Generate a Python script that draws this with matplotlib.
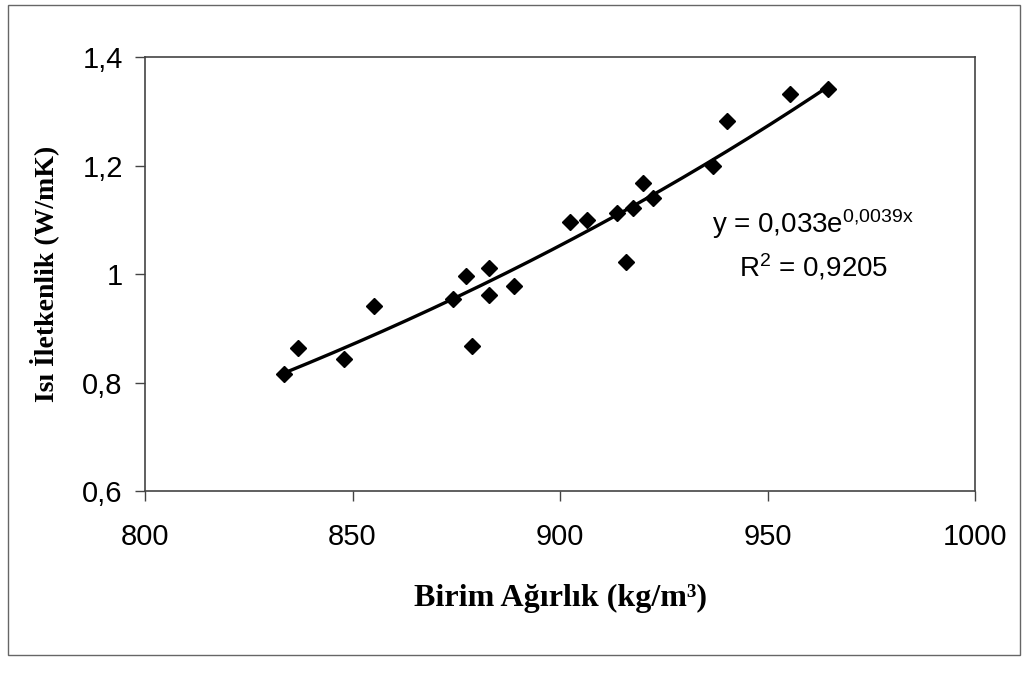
import numpy as np
import matplotlib
matplotlib.use("Agg")
import matplotlib.pyplot as plt
from matplotlib.patches import Rectangle
from matplotlib import font_manager

# Unit weight (kg/m3) and thermal conductivity (W/mK) of the samples
birim_agirlik = [833.5, 836.8, 848.0, 855.2, 874.1, 877.4, 878.8, 883.0, 883.0,
                 888.8, 902.5, 906.6, 913.8, 915.8, 917.7, 920.1, 922.3, 936.8,
                 940.2, 955.4, 964.5]
isi_iletkenlik = [0.816, 0.864, 0.843, 0.941, 0.954, 0.996, 0.867, 1.011, 0.961,
                  0.978, 1.096, 1.100, 1.112, 1.022, 1.122, 1.168, 1.140, 1.199,
                  1.282, 1.332, 1.341]

x_ticks = [800, 850, 900, 950, 1000]
y_ticks = [0.6, 0.8, 1.0, 1.2, 1.4]
y_tick_labels = ["0,6", "0,8", "1", "1,2", "1,4"]

esitlik = r"y = 0,033e$^{0{,}0039x}$"
r_kare = r"R$^{2}$ = 0,9205"


def available(name):
    try:
        font_manager.findfont(name, fallback_to_default=False)
        return True
    except Exception:
        return False


narrow = available("Liberation Sans Narrow")
sans_name = "Liberation Sans Narrow" if narrow else "Liberation Sans"
sans = [sans_name, "DejaVu Sans"]
serif = ["Liberation Serif", "DejaVu Serif"]
tick_size = 24 if narrow else 21
eq_size = 23 if narrow else 20

plt.rcParams["mathtext.fontset"] = "custom"
plt.rcParams["mathtext.rm"] = sans_name
plt.rcParams["mathtext.it"] = sans_name
plt.rcParams["mathtext.bf"] = sans_name

fig = plt.figure(figsize=(10.27, 6.73), dpi=100)

# outer chart frame
fig.patches.append(Rectangle((0.008, 0.027), 0.985, 0.966, transform=fig.transFigure,
                             fill=False, edgecolor="#666666", linewidth=1.0))

ax = fig.add_axes([0.1412, 0.2704, 0.8082, 0.6449])

x = np.array(birim_agirlik)
y = np.array(isi_iletkenlik)

# exponential trend line fitted on ln(y)
b, ln_a = np.polyfit(x, np.log(y), 1)
xs = np.linspace(x.min(), x.max(), 200)
ax.plot(xs, np.exp(ln_a) * np.exp(b * xs), color="black", linewidth=2.4, zorder=2)

ax.plot(x, y, linestyle="none", marker="D", markersize=8, color="black", zorder=3)

ax.set_xlim(800, 1000)
ax.set_ylim(0.6, 1.4)
ax.set_xticks(x_ticks)
ax.set_xticklabels([str(v) for v in x_ticks])
ax.set_yticks(y_ticks)
ax.set_yticklabels(y_tick_labels)

for lbl in ax.get_xticklabels() + ax.get_yticklabels():
    lbl.set_family(sans)
    lbl.set_fontsize(tick_size)

ax.tick_params(axis="both", direction="out", length=7, width=1, color="#444444")
ax.tick_params(axis="x", pad=16)
ax.tick_params(axis="y", pad=9)
for sp in ax.spines.values():
    sp.set_color("#444444")
    sp.set_linewidth(1.2)

ax.set_xlabel("Birim Ağırlık (kg/m³)", family=serif, fontweight="bold", fontsize=23,
              labelpad=24)
ax.set_ylabel("Isı İletkenlik (W/mK)", family=serif, fontweight="bold", fontsize=20,
              labelpad=17)

ax.text(0.805, 0.615, esitlik, transform=ax.transAxes, ha="center", va="center",
        fontsize=eq_size, family=sans)
ax.text(0.805, 0.515, r_kare, transform=ax.transAxes, ha="center", va="center",
        fontsize=eq_size, family=sans)

fig.savefig("out.png", dpi=100)
